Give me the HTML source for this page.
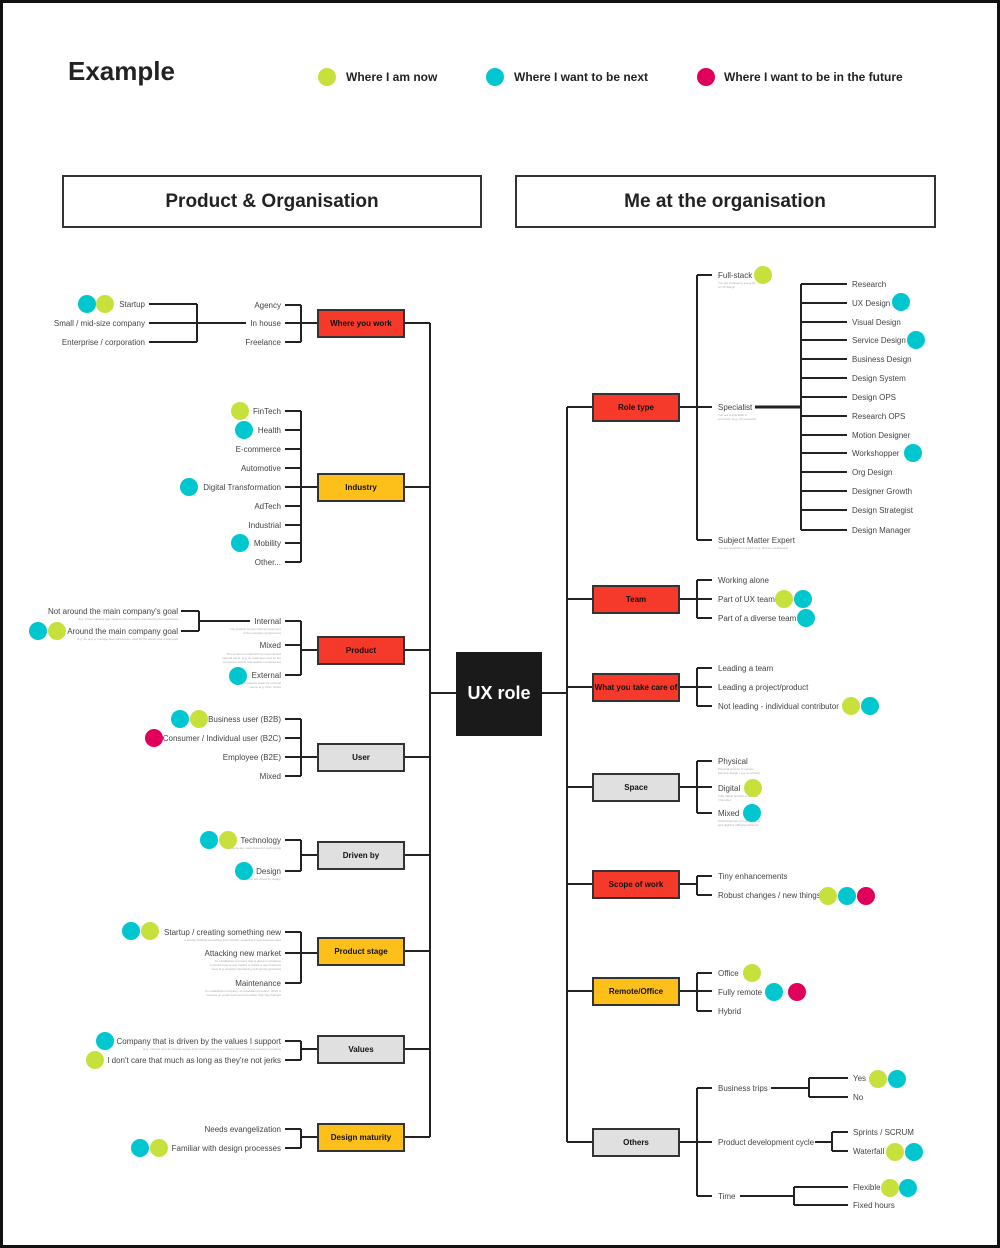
<!DOCTYPE html>
<html><head><meta charset="utf-8"><style>
html,body{margin:0;padding:0;background:#fff}
svg{display:block}
text{font-family:"Liberation Sans",sans-serif}
.l{font-size:8px;fill:#444}
.r{text-anchor:end}
.s{font-size:3px;fill:#aaa}
.b{font-size:8px;font-weight:bold;fill:#111;text-anchor:middle}
</style></head><body>
<svg width="1000" height="1248" viewBox="0 0 1000 1248" xmlns="http://www.w3.org/2000/svg">
<rect x="1.5" y="1.5" width="997" height="1245" fill="#fff" stroke="#111" stroke-width="3"/>
<text x="68" y="80" font-size="26" font-weight="bold" fill="#222">Example</text>
<circle cx="327" cy="77" r="9" fill="#c8e03c"/><text x="346" y="81" font-size="12" font-weight="bold" fill="#222">Where I am now</text>
<circle cx="495" cy="77" r="9" fill="#00c6cf"/><text x="514" y="81" font-size="12" font-weight="bold" fill="#222">Where I want to be next</text>
<circle cx="706" cy="77" r="9" fill="#e0005a"/><text x="724" y="81" font-size="12" font-weight="bold" fill="#222">Where I want to be in the future</text>
<rect x="63" y="176" width="418" height="51" fill="#fff" stroke="#333" stroke-width="2"/>
<text x="272" y="207" font-size="19" font-weight="bold" fill="#222" text-anchor="middle">Product &amp; Organisation</text>
<rect x="516" y="176" width="419" height="51" fill="#fff" stroke="#333" stroke-width="2"/>
<text x="725" y="207" font-size="19" font-weight="bold" fill="#222" text-anchor="middle">Me at the organisation</text>

<g stroke="#222" stroke-width="2" fill="none">
<!-- trunks -->
<path d="M430 323V1137M404 323H430M404 487H430M404 650H430M404 757H430M404 855H430M404 951H430M404 1049H430M404 1137H430M430 693H456M542 693H567M567 407V1142"/>
<path d="M567 407H593M567 599H593M567 687H593M567 787H593M567 884H593M567 991H593M567 1142H593"/>
<!-- left brackets -->
<path d="M301 305V342M285 305H301M285 323H318M285 342H301"/>
<path d="M149 304H197M149 323H197M149 342H197M197 304V342M197 323H246" />
<path d="M301 411V562M318 487H301"/>
<path d="M285 411H301M285 430H301M285 449H301M285 468H301M285 487H301M285 506H301M285 525H301M285 543H301M285 562H301"/>
<path d="M301 621V675M285 621H301M285 645H301M285 675H301M301 650H318"/>
<path d="M181 611H199M181 631H199M199 611V631M199 621H250"/>
<path d="M301 719V776M285 719H301M285 738H301M285 757H318M285 776H301"/>
<path d="M301 840V871M285 840H301M285 871H301M301 855H318"/>
<path d="M301 932V983M285 932H301M285 953H318M285 983H301"/>
<path d="M301 1041V1060M285 1041H301M285 1060H301M301 1049H318"/>
<path d="M301 1129V1148M285 1129H301M285 1148H301M301 1137H318"/>
<!-- right brackets -->
<path d="M679 407H712M697 275V540M697 275H712M697 540H712"/>
<path d="M755 407H801" stroke-width="3"/>
<path d="M801 284V530M801 284H847M801 303H847M801 322H847M801 340H847M801 359H847M801 378H847M801 397H847M801 416H847M801 435H847M801 453H847M801 472H847M801 491H847M801 510H847M801 530H847"/>
<path d="M679 599H712M697 580V618M697 580H712M697 618H712"/>
<path d="M679 687H712M697 668V706M697 668H712M697 706H712"/>
<path d="M679 787H712M697 761V813M697 761H712M697 813H712"/>
<path d="M679 884H697M697 876V895M697 876H712M697 895H712"/>
<path d="M679 991H712M697 973V1011M697 973H712M697 1011H712"/>
<path d="M679 1142H712M697 1088V1196M697 1088H712M697 1196H712"/>
<path d="M771 1088H809M809 1078V1097M809 1078H848M809 1097H848"/>
<path d="M815 1142H832M832 1132V1151M832 1132H848M832 1151H848"/>
<path d="M740 1196H794M794 1187V1205M794 1187H848M794 1205H848"/>
</g>

<!-- left boxes -->
<g stroke="#333" stroke-width="2">
<rect x="318" y="310" width="86" height="27" fill="#f5392a"/>
<rect x="318" y="474" width="86" height="27" fill="#fdbf1a"/>
<rect x="318" y="637" width="86" height="27" fill="#f5392a"/>
<rect x="318" y="744" width="86" height="27" fill="#e0e0e0"/>
<rect x="318" y="842" width="86" height="27" fill="#e0e0e0"/>
<rect x="318" y="938" width="86" height="27" fill="#fdbf1a"/>
<rect x="318" y="1036" width="86" height="27" fill="#e0e0e0"/>
<rect x="318" y="1124" width="86" height="27" fill="#fdbf1a"/>
<rect x="593" y="394" width="86" height="27" fill="#f5392a"/>
<rect x="593" y="586" width="86" height="27" fill="#f5392a"/>
<rect x="593" y="674" width="86" height="27" fill="#f5392a"/>
<rect x="593" y="774" width="86" height="27" fill="#e0e0e0"/>
<rect x="593" y="871" width="86" height="27" fill="#f5392a"/>
<rect x="593" y="978" width="86" height="27" fill="#fdbf1a"/>
<rect x="593" y="1129" width="86" height="27" fill="#e0e0e0"/>
</g>
<rect x="456" y="652" width="86" height="84" fill="#1a1a1a"/>
<text x="499" y="699" font-size="18" font-weight="bold" fill="#fff" text-anchor="middle">UX role</text>
<text class="b" x="361" y="326">Where you work</text>
<text class="b" x="361" y="490">Industry</text>
<text class="b" x="361" y="653">Product</text>
<text class="b" x="361" y="760">User</text>
<text class="b" x="361" y="858">Driven by</text>
<text class="b" x="361" y="954">Product stage</text>
<text class="b" x="361" y="1052">Values</text>
<text class="b" x="361" y="1140">Design maturity</text>
<text class="b" x="636" y="410">Role type</text>
<text class="b" x="636" y="602">Team</text>
<text class="b" x="636" y="690" font-size="7.5">What you take care of</text>
<text class="b" x="636" y="790">Space</text>
<text class="b" x="636" y="887">Scope of work</text>
<text class="b" x="636" y="994">Remote/Office</text>
<text class="b" x="636" y="1145">Others</text>

<!-- left labels -->
<g class="l r">
<text class="l r" x="281" y="308">Agency</text>
<text class="l r" x="281" y="326">In house</text>
<text class="l r" x="281" y="345">Freelance</text>
<text class="l r" x="145" y="307">Startup</text>
<text class="l r" x="145" y="326">Small / mid-size company</text>
<text class="l r" x="145" y="345">Enterprise / corporation</text>
<text class="l r" x="281" y="414">FinTech</text>
<text class="l r" x="281" y="433">Health</text>
<text class="l r" x="281" y="452">E-commerce</text>
<text class="l r" x="281" y="471">Automotive</text>
<text class="l r" x="281" y="490">Digital Transformation</text>
<text class="l r" x="281" y="509">AdTech</text>
<text class="l r" x="281" y="528">Industrial</text>
<text class="l r" x="281" y="546">Mobility</text>
<text class="l r" x="281" y="565">Other...</text>
<text class="l r" x="281" y="624">Internal</text>
<text class="l r" x="281" y="648">Mixed</text>
<text class="l r" x="281" y="678">External</text>
<text class="l r" x="178" y="614">Not around the main company's goal</text>
<text class="l r" x="178" y="634">Around the main company goal</text>
<text class="l r" x="281" y="722">Business user (B2B)</text>
<text class="l r" x="281" y="741">Consumer / Individual user (B2C)</text>
<text class="l r" x="281" y="760">Employee (B2E)</text>
<text class="l r" x="281" y="779">Mixed</text>
<text class="l r" x="281" y="843">Technology</text>
<text class="l r" x="281" y="874">Design</text>
<text class="l r" x="281" y="935">Startup / creating something new</text>
<text class="l r" x="281" y="956">Attacking new market</text>
<text class="l r" x="281" y="986">Maintenance</text>
<text class="l r" x="281" y="1044">Company that is driven by the values I support</text>
<text class="l r" x="281" y="1063">I don't care that much as long as they're not jerks</text>
<text class="l r" x="281" y="1132">Needs evangelization</text>
<text class="l r" x="281" y="1151">Familiar with design processes</text>
</g>
<g>
<text class="s r" x="178" y="620" text-anchor="end">E.g. A time tracking app made by the company and used by the employees</text>
<text class="s r" x="178" y="640" text-anchor="end">E.g. An app to manage fleet warehouse, used by the warehouse employees</text>
<text class="s" x="281" y="630" text-anchor="end">The product serves internal customers</text>
<text class="s" x="281" y="634" text-anchor="end">of the company (employees)</text>
<text class="s" x="281" y="655" text-anchor="end">The product is used both by external and</text>
<text class="s" x="281" y="659" text-anchor="end">internal users. E.g. an audit app used by the</text>
<text class="s" x="281" y="663" text-anchor="end">company's clients and auditors (employees)</text>
<text class="s" x="281" y="684" text-anchor="end">The product is made for external</text>
<text class="s" x="281" y="688" text-anchor="end">users. E.g. Uber, Stripe</text>
<text class="s" x="281" y="849" text-anchor="end">Decisions are made based on technology</text>
<text class="s" x="281" y="880" text-anchor="end">Decisions are driven by design</text>
<text class="s" x="281" y="941" text-anchor="end">A startup building something from scratch, exploring a new business idea</text>
<text class="s" x="281" y="962" text-anchor="end">An established company that is about to introduce</text>
<text class="s" x="281" y="966" text-anchor="end">a product into a new market or attack a new business</text>
<text class="s" x="281" y="970" text-anchor="end">area. E.g. Amazon introducing self-service groceries</text>
<text class="s" x="281" y="992" text-anchor="end">An established company, an established product. Work is</text>
<text class="s" x="281" y="996" text-anchor="end">focused on small improvements rather than big changes</text>
<text class="s" x="281" y="1050" text-anchor="end">E.g. I deeply care for climate issues and I want to work at a company that introduces ecogreen products</text>
</g>

<!-- right labels -->
<text class="l" x="718" y="278">Full-stack</text>
<text class="s" x="718" y="284">You get involved in every bit</text>
<text class="s" x="718" y="288">of UX design</text>
<text class="l" x="718" y="410">Specialist</text>
<text class="s" x="718" y="416">You are a specialist in</text>
<text class="s" x="718" y="420">a function (e.g. UX research)</text>
<text class="l" x="718" y="543">Subject Matter Expert</text>
<text class="s" x="718" y="549">You are specialist in a topic (e.g. finance, healthcare)</text>
<g>
<text class="l" x="852" y="287">Research</text>
<text class="l" x="852" y="306">UX Design</text>
<text class="l" x="852" y="325">Visual Design</text>
<text class="l" x="852" y="343">Service Design</text>
<text class="l" x="852" y="362">Business Design</text>
<text class="l" x="852" y="381">Design System</text>
<text class="l" x="852" y="400">Design OPS</text>
<text class="l" x="852" y="419">Research OPS</text>
<text class="l" x="852" y="438">Motion Designer</text>
<text class="l" x="852" y="456">Workshopper</text>
<text class="l" x="852" y="475">Org Design</text>
<text class="l" x="852" y="494">Designer Growth</text>
<text class="l" x="852" y="513">Design Strategist</text>
<text class="l" x="852" y="533">Design Manager</text>
</g>
<text class="l" x="718" y="583">Working alone</text>
<text class="l" x="718" y="602">Part of UX team</text>
<text class="l" x="718" y="621">Part of a diverse team</text>
<text class="l" x="718" y="671">Leading a team</text>
<text class="l" x="718" y="690">Leading a project/product</text>
<text class="l" x="718" y="709">Not leading - individual contributor</text>
<text class="l" x="718" y="764">Physical</text>
<text class="s" x="718" y="770">Physical product or service</text>
<text class="s" x="718" y="774">(service design - e.g. in a hotel)</text>
<text class="l" x="718" y="791">Digital</text>
<text class="s" x="718" y="797">Fully digital product or service</text>
<text class="s" x="718" y="801">(Youtube)</text>
<text class="l" x="718" y="816">Mixed</text>
<text class="s" x="718" y="822">Product/service is both physical</text>
<text class="s" x="718" y="826">and digital (Lufthansa Airlines)</text>
<text class="l" x="718" y="879">Tiny enhancements</text>
<text class="l" x="718" y="898">Robust changes / new things</text>
<text class="l" x="718" y="976">Office</text>
<text class="l" x="718" y="995">Fully remote</text>
<text class="l" x="718" y="1014">Hybrid</text>
<text class="l" x="718" y="1091">Business trips</text>
<text class="l" x="718" y="1145">Product development cycle</text>
<text class="l" x="718" y="1199">Time</text>
<text class="l" x="853" y="1081">Yes</text>
<text class="l" x="853" y="1100">No</text>
<text class="l" x="853" y="1135">Sprints / SCRUM</text>
<text class="l" x="853" y="1154">Waterfall</text>
<text class="l" x="853" y="1190">Flexible</text>
<text class="l" x="853" y="1208">Fixed hours</text>

<!-- dots -->
<g fill="#00c6cf">
<circle cx="87" cy="304" r="9"/><circle cx="244" cy="430" r="9"/><circle cx="189" cy="487" r="9"/><circle cx="240" cy="543" r="9"/>
<circle cx="38" cy="631" r="9"/><circle cx="238" cy="676" r="9"/><circle cx="180" cy="719" r="9"/><circle cx="209" cy="840" r="9"/>
<circle cx="244" cy="871" r="9"/><circle cx="131" cy="931" r="9"/><circle cx="105" cy="1041" r="9"/><circle cx="140" cy="1148" r="9"/>
<circle cx="901" cy="302" r="9"/><circle cx="916" cy="340" r="9"/><circle cx="913" cy="453" r="9"/><circle cx="803" cy="599" r="9"/>
<circle cx="806" cy="618" r="9"/><circle cx="870" cy="706" r="9"/><circle cx="752" cy="813" r="9"/><circle cx="847" cy="896" r="9"/>
<circle cx="774" cy="992" r="9"/><circle cx="897" cy="1079" r="9"/><circle cx="914" cy="1152" r="9"/><circle cx="908" cy="1188" r="9"/>
</g>
<g fill="#c8e03c">
<circle cx="105" cy="304" r="9"/><circle cx="240" cy="411" r="9"/><circle cx="57" cy="631" r="9"/><circle cx="199" cy="719" r="9"/>
<circle cx="228" cy="840" r="9"/><circle cx="150" cy="931" r="9"/><circle cx="95" cy="1060" r="9"/><circle cx="159" cy="1148" r="9"/>
<circle cx="763" cy="275" r="9"/><circle cx="784" cy="599" r="9"/><circle cx="851" cy="706" r="9"/><circle cx="753" cy="788" r="9"/>
<circle cx="828" cy="896" r="9"/><circle cx="752" cy="973" r="9"/><circle cx="878" cy="1079" r="9"/><circle cx="895" cy="1152" r="9"/>
<circle cx="890" cy="1188" r="9"/>
</g>
<g fill="#e0005a">
<circle cx="154" cy="738" r="9"/><circle cx="866" cy="896" r="9"/><circle cx="797" cy="992" r="9"/>
</g>
</svg>
</body></html>
